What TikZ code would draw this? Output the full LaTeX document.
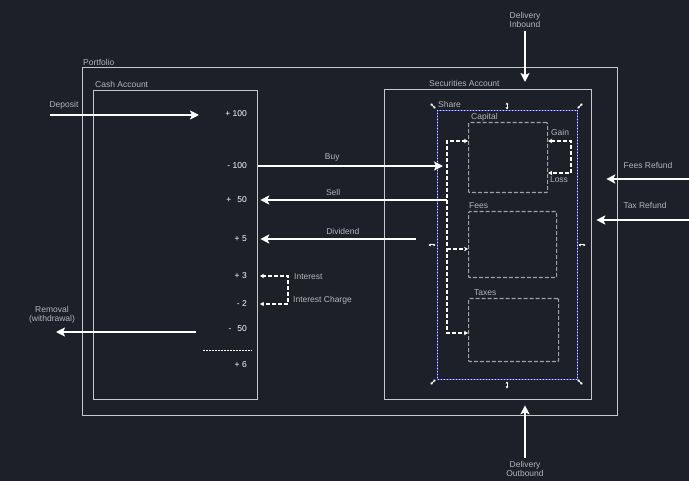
\documentclass[tikz,border=0pt]{standalone}
\usepackage{fontspec}
\setmainfont{Liberation Sans}
\usetikzlibrary{arrows.meta,positioning,calc}
\definecolor{bg}{HTML}{1E2029}
\definecolor{frame}{HTML}{C8C8CC}
\definecolor{partline}{HTML}{A0A0A4}
\definecolor{lbltxt}{HTML}{B4B4B8}
\definecolor{selblue}{HTML}{5050F0}

\begin{document}
\begin{tikzpicture}[
  x=1pt, y=-1pt,
  font=\fontsize{8.5}{9.5}\selectfont,
  >={Stealth[length=9pt, width=9pt, inset=2pt]},
  acct/.style={draw=frame, line width=1.3pt, anchor=north west, inner sep=0pt},
  part/.style={draw=partline, line width=1.2pt, dash pattern=on 4pt off 2pt,
               rounded corners=1pt, anchor=north west, inner sep=0pt},
  sel/.style={draw=selblue, line width=1pt, anchor=north west, inner sep=0pt,
              postaction={draw=white!80!selblue, line width=1pt, dash pattern=on 1pt off 2pt}},
  lbl/.style={text=lbltxt, inner sep=1pt, align=center},
  amt/.style={text=white, anchor=east, inner sep=1pt},
  flow/.style={->, draw=white, line width=1.6pt},
  link/.style={-{Stealth[length=4pt, width=4.5pt]}, draw=white, line width=1.2pt,
               dash pattern=on 4pt off 2pt},
  linkboth/.style={link, {Stealth[length=4pt, width=4.5pt]}-{Stealth[length=4pt, width=4.5pt]}},
  grip/.style={{Latex[length=2pt, width=3.2pt]}-{Latex[length=2pt, width=3.2pt]},
               draw=white, line width=1pt},
]

\fill[bg] (0,0) rectangle (689,481);
\useasboundingbox (0,0) rectangle (689,481);

% ---- containers ----------------------------------------------------------
\node[acct, minimum width=535pt, minimum height=348pt] (portfolio) at (82,67) {};
\node[acct, minimum width=164pt, minimum height=309pt] (cash) at (93,90) {};
\node[acct, minimum width=207pt, minimum height=310pt] (secacct) at (384,89) {};
\node[sel,  minimum width=140pt, minimum height=269pt] (share) at (437,110) {};

\node[lbl, anchor=south west] at (portfolio.north west) {Portfolio};
\node[lbl, anchor=south west] at ([xshift=1pt,yshift=1pt]cash.north west) {Cash Account};
\node[lbl, anchor=south west] at ([xshift=44pt,yshift=1pt]secacct.north west) {Securities Account};
\node[lbl, anchor=south west] at ([yshift=1pt]share.north west) {Share};

% ---- share parts ---------------------------------------------------------
\node[part, minimum width=79pt, minimum height=70pt] (capital) at (468,122) {};
\node[part, minimum width=88pt, minimum height=66pt] (fees) at (468,211) {};
\node[part, minimum width=90pt, minimum height=63pt] (taxes) at (468,298) {};

\node[lbl, anchor=south west] at ([xshift=2pt]capital.north west) {Capital};
\node[lbl, anchor=south west] at ([yshift=1pt]fees.north west) {Fees};
\node[lbl, anchor=south west] at ([xshift=5pt,yshift=1pt]taxes.north west) {Taxes};

% ---- selection grips round the share -------------------------------------
\foreach \gx/\gy/\dx/\dy in {433/106/2.5/2.5, 507/106/0/3.5, 580/106/-2.5/2.5,
                             432/245/3.5/0, 582/245/3.5/0,
                             433/382/2.5/-2.5, 507/385/0/3.5, 580/382/-2.5/-2.5}
  \draw[grip] (\gx-\dx,\gy-\dy) -- (\gx+\dx,\gy+\dy);

% ---- cash bookings -------------------------------------------------------
\node[amt] (depAmt)  at (248,114) {+ 100};
\node[amt] (buyAmt)  at (248,166) {- 100};
\node[amt] (sellAmt) at (248,200) {+\hspace{6pt}50};
\node[amt] (divAmt)  at (248,239) {+ 5};
\node[amt] (intAmt)  at (248,276) {+ 3};
\node[amt] (chgAmt)  at (248,304) {- 2};
\node[amt] (remAmt)  at (248,329) {-\hspace{6pt}50};
\node[amt] (balAmt)  at (248,365) {+ 6};

\coordinate (sumL) at (203,351);
\coordinate (sumR) at (252,351);
\draw[white, line width=1pt, dash pattern=on 2pt off 1pt] (sumL) -- (sumR);

% ---- deposit / removal ---------------------------------------------------
\coordinate (depSrc) at (50,115);
\coordinate (depEnd) at (199,115);
\draw[flow] (depSrc) -- (depEnd);
\node[lbl] at (64,105) {Deposit};

\coordinate (remSrc) at (196,332);
\coordinate (remEnd) at (56,332);
\draw[flow] (remSrc) -- (remEnd);
\node[lbl] at (52,315) {Removal\\(withdrawal)};

% ---- interest bracket ----------------------------------------------------
\coordinate (intTurn) at (288,276);
\coordinate (chgTurn) at (288,304);
\draw[linkboth] ([xshift=12pt]intAmt.east |- intTurn) -- (intTurn)
  -- (chgTurn) -- ([xshift=12pt]chgAmt.east |- chgTurn);
\node[lbl, anchor=west] at (293,277) {Interest};
\node[lbl, anchor=west] at (292,300) {Interest Charge};

% ---- distribution inside the share ---------------------------------------
\coordinate (distTop) at (447,141);
\coordinate (distBot) at (447,333);
\coordinate (feesIn)  at (447,249);
\draw[linkboth] (capital.west |- distTop) -- (distTop) -- (distBot)
  -- (taxes.west |- distBot);
\draw[link] (feesIn) -- (fees.west |- feesIn);

% ---- trades between the accounts -----------------------------------------
\draw[flow] (buyAmt.east -| cash.east) -- ([xshift=-4pt]buyAmt.east -| distTop)
  node[lbl, above=3pt, pos=0.40] {Buy};
\draw[flow] (sellAmt.east -| distTop) -- ([xshift=2pt]sellAmt.east -| cash.east)
  node[lbl, above=3pt, pos=0.61] {Sell};
\coordinate (divSrc) at (416,239);
\draw[flow] (divSrc) -- ([xshift=2pt]divSrc -| cash.east)
  node[lbl, above=3pt, pos=0.47] {Dividend};

% ---- gain / loss on capital ----------------------------------------------
\coordinate (gainTurn) at (571,141);
\coordinate (lossTurn) at (571,173);
\draw[linkboth] (capital.east |- gainTurn) -- (gainTurn) -- (lossTurn)
  -- (capital.east |- lossTurn);
\node[lbl] at (560,132) {Gain};
\node[lbl] at (559,180) {Loss};

% ---- deliveries ----------------------------------------------------------
\node[lbl] (inLbl)  at (525,20)  {Delivery\\Inbound};
\node[lbl] (outLbl) at (525,469) {Delivery\\Outbound};
\draw[flow] ([yshift=-2pt]inLbl.south) -- ([yshift=7pt]inLbl.south |- secacct.north);
\draw[flow] ([yshift=2pt]outLbl.north) -- ([yshift=-5pt]outLbl.north |- secacct.south);

% ---- refunds -------------------------------------------------------------
\coordinate (feesSrc) at (689,179);
\coordinate (taxSrc)  at (689,220);
\draw[flow] (feesSrc) -- ([xshift=-12pt]portfolio.east |- feesSrc);
\draw[flow] (taxSrc) -- ([xshift=4pt]secacct.east |- taxSrc);
\node[lbl] at (648,165) {Fees Refund};
\node[lbl] at (645,205) {Tax Refund};

\end{tikzpicture}
\end{document}
